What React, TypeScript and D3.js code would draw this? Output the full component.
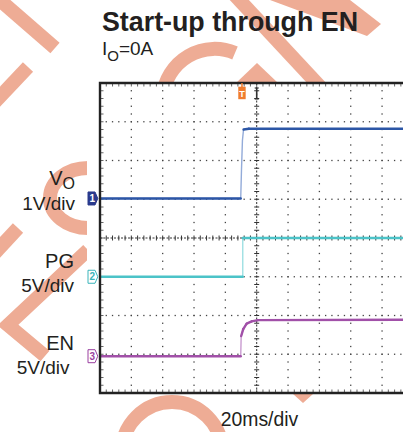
import React, { useRef, useEffect } from 'react';
import * as d3 from 'd3';

// 20 ms/div, 10 divisions across, 8 down
const timeDomain = [-100, 100];
const divDomain = [-4, 4];
const triggerMs = -9.4;

// VO, 1 V/div
const voTime = [-100, -10.2, -9.7, -9.1, -8.4, -5, 100];
const voVolts = [0, 0, 0.75, 1.5, 1.78, 1.8, 1.8];
// PG, 5 V/div
const pgTime = [-100, -8.9, -8.9, 100];
const pgVolts = [0, 0, 5, 5];
// EN, 5 V/div
const enTime = [-100, -10.2, -9.9, -8.6, -6.4, -3.2, 0.8, 100];
const enVolts = [0, 0, 2.6, 3.5, 4.2, 4.5, 4.65, 4.7];

const channelIds = ['1', '2', '3'];
const channelNames = ['V', 'PG', 'EN'];
const channelSubs = ['O', '', ''];
const channelScales = ['1V/div', '5V/div', '5V/div'];
const voltsPerDiv = [1, 5, 5];
const offsetDiv = [1.02, -1.0, -3.05];

const titleText = 'Start-up through EN';
const timeLabel = '20ms/div';

const FONT = '"Liberation Sans", Arial, sans-serif';
const INK = '#231f20';

const App = () => {
  const ref = useRef<SVGSVGElement>(null);

  useEffect(() => {
    document.body.style.margin = '0';
    const svg = d3.select(ref.current);
    svg.selectAll('*').remove();

    const left = 100, top = 83, bottom = 393;
    const divW = 31.34;
    const x = d3.scaleLinear().domain(timeDomain).range([left, left + 10 * divW]);
    const y = d3.scaleLinear().domain(divDomain).range([bottom, top]);

    // watermark behind everything
    const wm = svg.append('g').attr('fill', 'none').attr('stroke', '#eeac95').attr('stroke-width', 14);
    [
      'M-6,-5 L55,48',
      'M28,67 L-6,103',
      'M163,95 A52,52 0 0 1 235,53',
      'M230,-10 L325,92',
      'M18,228 L-8,256',
      'M88,250 L8,325 L45,356',
    ].forEach(d => wm.append('path').attr('d', d));
    wm.append('ellipse').attr('cx', 88).attr('cy', 198).attr('rx', 38).attr('ry', 30);
    wm.append('circle').attr('cx', 172).attr('cy', 452).attr('r', 50);
    const wmFill = svg.append('g').attr('fill', '#eeac95');
    ['270,0 350,0 381,24 367,36', '236,83 257,63 278,83', '293,394 313,394 303,403'].forEach(p =>
      wmFill.append('polygon').attr('points', p));

    // scope screen background
    svg.append('rect').attr('x', 87).attr('y', 82).attr('width', 330).attr('height', 312).attr('fill', '#fff');

    const g = svg.append('g');

    // dotted grid
    const minorT = d3.range(timeDomain[0], timeDomain[1] + 0.01, 4);
    const minorD = d3.range(divDomain[0], divDomain[1] + 0.001, 0.2);
    const majorT = d3.range(-80, 81, 20).filter(t => t !== 0);
    const majorD = d3.range(-3, 4, 1).filter(d => d !== 0);
    const dots = g.append('g').attr('fill', '#444');
    majorT.forEach(t => minorD.forEach(d =>
      dots.append('rect').attr('x', x(t) - 0.65).attr('y', y(d) - 0.65).attr('width', 1.3).attr('height', 1.3)));
    majorD.forEach(d => minorT.forEach(t =>
      dots.append('rect').attr('x', x(t) - 0.65).attr('y', y(d) - 0.65).attr('width', 1.3).attr('height', 1.3)));

    // centre axes with ticks
    const axes = g.append('g').attr('stroke', '#333');
    axes.append('line').attr('x1', x(0)).attr('x2', x(0)).attr('y1', top).attr('y2', bottom)
      .attr('stroke-dasharray', '2,1.5').attr('stroke-width', 1);
    axes.append('line').attr('x1', left).attr('x2', 403).attr('y1', y(0)).attr('y2', y(0))
      .attr('stroke-dasharray', '2,1.5').attr('stroke-width', 1);
    minorD.forEach(d => axes.append('line').attr('x1', x(0) - 2.5).attr('x2', x(0) + 2.5)
      .attr('y1', y(d)).attr('y2', y(d)).attr('stroke-width', 1));
    minorT.forEach(t => axes.append('line').attr('x1', x(t)).attr('x2', x(t))
      .attr('y1', y(0) - 2.5).attr('y2', y(0) + 2.5).attr('stroke-width', 1));

    // border ticks
    const bt = g.append('g').attr('stroke', '#555').attr('stroke-width', 0.9);
    minorT.forEach(t => {
      bt.append('line').attr('x1', x(t)).attr('x2', x(t)).attr('y1', top + 1).attr('y2', top + 3.5);
      bt.append('line').attr('x1', x(t)).attr('x2', x(t)).attr('y1', bottom - 1).attr('y2', bottom - 3.5);
    });
    minorD.forEach(d => bt.append('line').attr('x1', left + 1).attr('x2', left + 3.5).attr('y1', y(d)).attr('y2', y(d)));

    // traces
    svg.append('clipPath').attr('id', 'scr').append('rect')
      .attr('x', left).attr('y', top).attr('width', 320).attr('height', bottom - top);
    const traces = g.append('g').attr('clip-path', 'url(#scr)').attr('fill', 'none');
    const series = [
      { t: voTime, v: voVolts, color: '#2c56a6', edge: '#93abd9' },
      { t: pgTime, v: pgVolts, color: '#4cc3c8', edge: '#9fe0e3' },
      { t: enTime, v: enVolts, color: '#a150a8', edge: '#c99bd0' },
    ];
    series.forEach((s, i) => {
      const pts: [number, number][] = s.t.map((t, k) => [x(t), y(offsetDiv[i] + s.v[k] / voltsPerDiv[i])]);
      traces.append('path').attr('d', d3.line()(pts)).attr('stroke', s.edge).attr('stroke-width', 1.4);
      for (let k = 1; k < pts.length; k++) {
        const dx = Math.abs(pts[k][0] - pts[k - 1][0]);
        const dy = Math.abs(pts[k][1] - pts[k - 1][1]);
        if (dy <= 4 * dx + 0.5) {
          traces.append('path').attr('d', d3.line()([pts[k - 1], pts[k]]))
            .attr('stroke', s.color).attr('stroke-width', 2.4).attr('stroke-linecap', 'round');
        }
      }
    });

    // border
    const border = g.append('g').attr('stroke', '#222').attr('stroke-width', 2.4).attr('fill', 'none');
    border.append('path').attr('d', `M403,${top} L${left},${top} L${left},${bottom} L403,${bottom}`);

    // channel markers
    const markerColors = ['#2a3a8c', '#3ab4ba', '#9a3fa0'];
    channelIds.forEach((id, i) => {
      const cy = y(offsetDiv[i]);
      const mx = 88;
      const filled = i === 0;
      g.append('path')
        .attr('d', `M${mx},${cy - 6.5} L${mx + 7},${cy - 6.5} L${mx + 9.8},${cy} L${mx + 7},${cy + 6.5} L${mx},${cy + 6.5} Z`)
        .attr('fill', filled ? markerColors[i] : '#fff')
        .attr('stroke', markerColors[i]).attr('stroke-width', 1);
      g.append('text').attr('x', mx + 4.3).attr('y', cy + 3.6).attr('text-anchor', 'middle')
        .attr('font-family', FONT).attr('font-size', 10).attr('font-weight', 'bold')
        .attr('fill', filled ? '#fff' : markerColors[i]).text(id);
    });

    // trigger marker
    const tx = x(triggerMs);
    g.append('line').attr('x1', tx).attr('x2', tx).attr('y1', top).attr('y2', top + 4).attr('stroke', '#f07c2e').attr('stroke-width', 1.5);
    g.append('rect').attr('x', tx - 3.7).attr('y', top + 3.7).attr('width', 7.4).attr('height', 12.5).attr('fill', '#f07c2e');
    g.append('text').attr('x', tx).attr('y', top + 13.5).attr('text-anchor', 'middle')
      .attr('font-family', FONT).attr('font-size', 9).attr('font-weight', 'bold').attr('fill', '#fff').text('T');
    g.append('line').attr('x1', x(0)).attr('x2', x(0)).attr('y1', top + 5).attr('y2', top + 16).attr('stroke', '#333').attr('stroke-width', 1.6);
    g.append('line').attr('x1', x(0) - 2).attr('x2', x(0) + 2).attr('y1', top + 5).attr('y2', top + 5).attr('stroke', '#333').attr('stroke-width', 1.2);
    g.append('line').attr('x1', x(0) - 2).attr('x2', x(0) + 2).attr('y1', top + 16).attr('y2', top + 16).attr('stroke', '#333').attr('stroke-width', 1.2);

    // texts
    const txt = svg.append('g').attr('font-family', FONT).attr('fill', INK);
    txt.append('text').attr('x', 102).attr('y', 30.5).attr('font-size', 26.8).attr('font-weight', 'bold').text(titleText);
    const io = txt.append('text').attr('x', 102).attr('y', 55).attr('font-size', 19);
    io.append('tspan').text('I');
    io.append('tspan').attr('font-size', 15).attr('dy', 6).text('O');
    io.append('tspan').attr('dy', -6).text('=0A');

    const nameY = [185, 267.5, 350];
    const nameRight = [75, 74, 74];
    const scaleY = [209.5, 291.5, 373.5];
    const scaleRight = [75, 74, 69.5];
    channelNames.forEach((n, i) => {
      const t = txt.append('text').attr('x', nameRight[i]).attr('y', nameY[i]).attr('text-anchor', 'end').attr('font-size', 20);
      t.append('tspan').text(n);
      if (channelSubs[i]) t.append('tspan').attr('font-size', 16).attr('dy', 3.5).text(channelSubs[i]);
      txt.append('text').attr('x', scaleRight[i]).attr('y', scaleY[i]).attr('text-anchor', 'end').attr('font-size', 19).text(channelScales[i]);
    });
    txt.append('text').attr('x', 220.7).attr('y', 425.7).attr('font-size', 19.4).text(timeLabel);
  }, []);

  return <svg ref={ref} width={403} height={432} style={{ display: 'block', background: '#fff' }} />;
};

export default App;
